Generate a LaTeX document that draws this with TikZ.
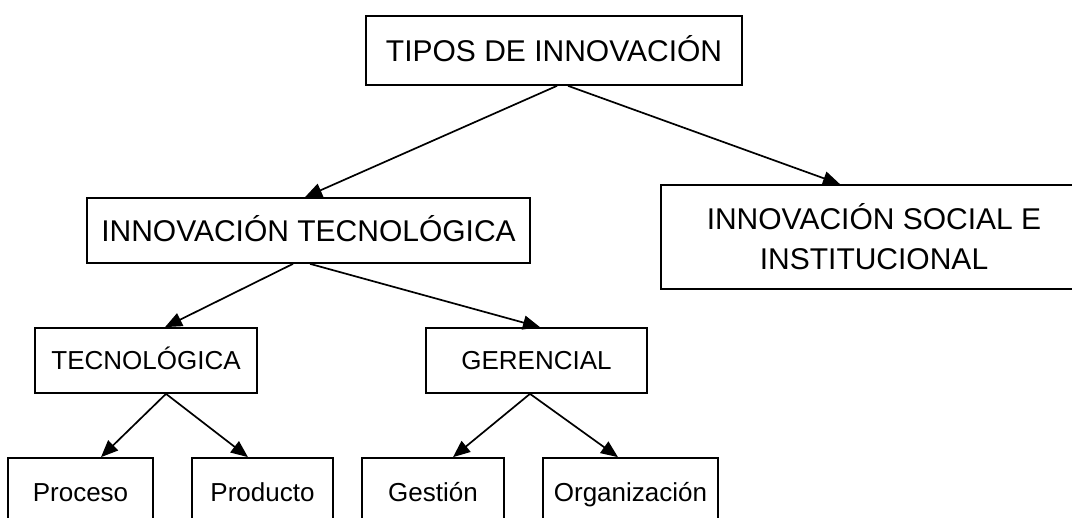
\documentclass[tikz,border=0pt]{standalone}
\usepackage{fontspec}
\setmainfont{Liberation Sans}
\usetikzlibrary{arrows.meta,calc}
\begin{document}
\begin{tikzpicture}[x=1pt,y=-1pt,
  box/.style={draw,line width=1.7pt,inner sep=0pt,anchor=center,text depth=0pt},
  big/.style={box,font=\fontsize{30}{40}\selectfont,text height=21.5pt},
  small/.style={box,font=\fontsize{26}{32}\selectfont,text height=18.6pt},
  arr/.style={line width=1.7pt,-{Triangle[length=17pt,width=14pt]}}]
\useasboundingbox (0,0) rectangle (1072,518);
\clip (0,0) rectangle (1072,518);
\fill[white] (0,0) rectangle (1072,518);
\node[big,minimum width=376,minimum height=69] (tipos) at (554,50.5) {TIPOS DE INNOVACIÓN};
\node[big,minimum width=443,minimum height=65] (tec) at (308.5,230.5) {INNOVACIÓN TECNOLÓGICA};
\node[big,minimum width=426,minimum height=104,align=center,text height=,text depth=] (social) at (874,237) {INNOVACIÓN SOCIAL E\\INSTITUCIONAL};
\node[small,minimum width=222,minimum height=65] (tecn) at (146,360.5) {TECNOLÓGICA};
\node[small,minimum width=221,minimum height=65] (ger) at (536.5,360.5) {GERENCIAL};
\node[small,minimum width=145,minimum height=68] (proceso) at (80.5,492) {Proceso};
\node[small,minimum width=141,minimum height=68] (producto) at (262.5,492) {Producto};
\node[small,minimum width=142,minimum height=68] (gestion) at (433,492) {Gestión};
\node[small,minimum width=175,minimum height=68] (organizacion) at (630.5,492) {Organización};
\draw[arr] ([xshift=3pt]tipos.south) -- ([xshift=-3.5pt]tec.north);
\draw[arr] ([xshift=14pt]tipos.south) -- ([xshift=-34pt]social.north);
\draw[arr] ([xshift=-15.5pt]tec.south) -- ([xshift=19pt]tecn.north);
\draw[arr] ([xshift=1.5pt]tec.south) -- ([xshift=3.5pt]ger.north);
\draw[arr] ([xshift=20pt]tecn.south) -- ([xshift=20.5pt]proceso.north);
\draw[arr] ([xshift=20pt]tecn.south) -- ([xshift=-14.5pt]producto.north);
\draw[arr] ([xshift=-6.5pt]ger.south) -- ([xshift=20pt]gestion.north);
\draw[arr] ([xshift=-6.5pt]ger.south) -- ([xshift=-12.5pt]organizacion.north);
\end{tikzpicture}
\end{document}
